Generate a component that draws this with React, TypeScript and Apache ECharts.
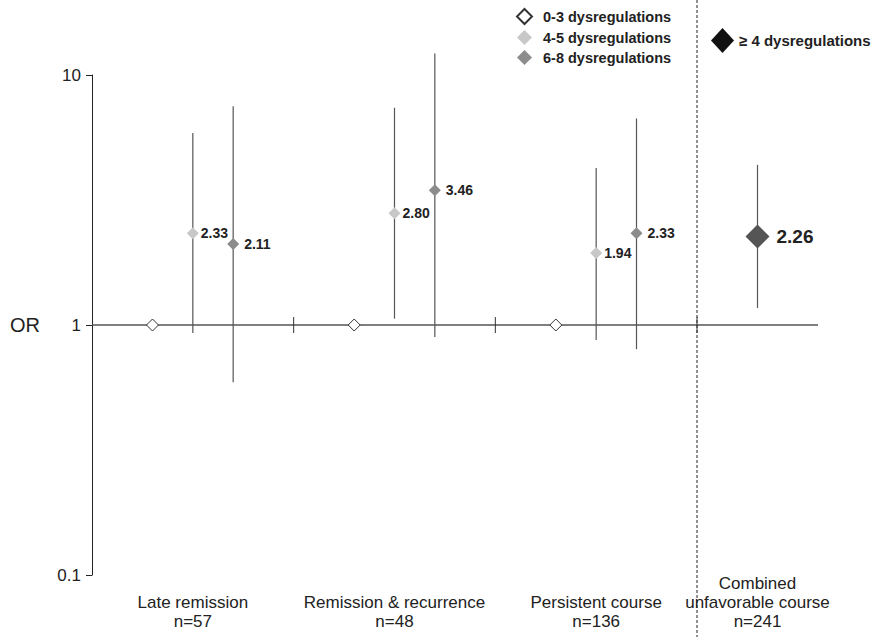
import React, { useEffect, useRef } from "react";
import * as echarts from "echarts";

const FONT = "'Liberation Sans', Arial, Helvetica, sans-serif";

// Category labels and their x positions (group index units)
const categoryLabels = [
  "Late remission\nn=57",
  "Remission & recurrence\nn=48",
  "Persistent course\nn=136",
  "Combined\nunfavorable course\nn=241",
];
const categoryPos = [0.5, 1.5, 2.5, 3.3];

// Reference group (0-3 dysregulations), OR = 1
const refX = [0.3, 1.3, 2.3];
const refOR = [1, 1, 1];

// 4-5 dysregulations
const x45 = [0.5, 1.5, 2.5];
const or45 = [2.33, 2.8, 1.94];
const lo45 = [0.93, 1.06, 0.87];
const hi45 = [5.86, 7.4, 4.25];

// 6-8 dysregulations
const x68 = [0.7, 1.7, 2.7];
const or68 = [2.11, 3.46, 2.33];
const lo68 = [0.59, 0.895, 0.8];
const hi68 = [7.5, 12.2, 6.7];

// >= 4 dysregulations, combined unfavorable course
const xComb = [3.3];
const orComb = [2.26];
const loComb = [1.17];
const hiComb = [4.37];

// group separators
const separators = [1, 2, 3];
const dividerX = [3];

export default function App() {
  const ref = useRef<HTMLDivElement>(null);

  useEffect(() => {
    if (!ref.current) return;
    const chart = echarts.init(ref.current, undefined, { renderer: "svg" });

    const ciData = [
      ...x45.map((x, i) => [x, lo45[i], hi45[i]]),
      ...x68.map((x, i) => [x, lo68[i], hi68[i]]),
      ...xComb.map((x, i) => [x, loComb[i], hiComb[i]]),
    ];

    const labelStyle = (size: number, dist: number) => ({
      show: true,
      position: "right",
      distance: dist,
      formatter: (p: any) => Number(p.value[1]).toFixed(2),
      fontFamily: FONT,
      fontWeight: "bold",
      fontSize: size,
      color: "#222",
    });

    chart.setOption({
      animation: false,
      backgroundColor: "#fff",
      grid: { left: 92, right: 57, top: 75, bottom: 62 },
      legend: [
        {
          data: [
            { name: "0-3 dysregulations", icon: "diamond" },
            { name: "4-5 dysregulations", icon: "diamond" },
            { name: "6-8 dysregulations", icon: "diamond" },
          ],
          orient: "vertical",
          left: 516,
          top: 8,
          padding: 0,
          itemWidth: 15,
          itemHeight: 15,
          itemGap: 5,
          selectedMode: false,
          textStyle: {
            fontFamily: FONT,
            fontSize: 14.5,
            fontWeight: "bold",
            color: "#222",
            padding: [0, 0, 0, 6],
          },
        },
        {
          data: [
            { name: "≥ 4 dysregulations", icon: "diamond", itemStyle: { color: "#111" } },
          ],
          orient: "vertical",
          left: 711,
          top: 28,
          padding: 0,
          itemWidth: 23,
          itemHeight: 25,
          selectedMode: false,
          textStyle: { fontFamily: FONT, fontSize: 15, fontWeight: "bold", color: "#222" },
        },
      ],
      xAxis: {
        type: "value",
        min: 0,
        max: 3.6,
        axisLine: { show: false },
        axisTick: { show: false },
        splitLine: { show: false },
        axisLabel: {
          customValues: categoryPos,
          formatter: (v: number) => {
            const i = categoryPos.findIndex((p) => Math.abs(p - v) < 1e-6);
            return i >= 0 ? categoryLabels[i] : "";
          },
          fontFamily: FONT,
          fontSize: 17,
          color: "#222",
          lineHeight: 19,
          verticalAlign: "bottom",
          margin: 56,
        },
      },
      yAxis: {
        type: "log",
        logBase: 10,
        min: 0.1,
        max: 10,
        name: "OR",
        nameLocation: "middle",
        nameRotate: 0,
        nameGap: 52,
        nameTextStyle: {
          fontFamily: FONT,
          fontSize: 20,
          color: "#222",
          align: "right",
          verticalAlign: "middle",
        },
        axisLine: { show: true, lineStyle: { color: "#222", width: 1 } },
        axisTick: {
          show: true,
          inside: false,
          length: 6,
          lineStyle: { color: "#222" },
        },
        minorTick: { show: false },
        splitLine: { show: false },
        axisLabel: {
          fontFamily: FONT,
          fontSize: 17,
          color: "#222",
          margin: 11,
        },
      },
      series: [
        {
          type: "custom",
          name: "divider",
          silent: true,
          clip: false,
          data: dividerX.map((x) => [x, 1]),
          renderItem: (params: any, api: any) => {
            const p = api.coord([api.value(0), api.value(1)]);
            return {
              type: "line",
              shape: { x1: p[0], y1: 0, x2: p[0], y2: api.getHeight() },
              style: { stroke: "#222", lineWidth: 1, lineDash: [3, 2] },
            };
          },
          z: 1,
        },
        {
          type: "custom",
          name: "separators",
          silent: true,
          clip: false,
          data: separators.map((x) => [x, 1]),
          renderItem: (params: any, api: any) => {
            const p = api.coord([api.value(0), api.value(1)]);
            return {
              type: "line",
              shape: { x1: p[0], y1: p[1] - 8, x2: p[0], y2: p[1] + 8 },
              style: { stroke: "#333", lineWidth: 1 },
            };
          },
          z: 2,
        },
        {
          type: "custom",
          name: "CI",
          silent: true,
          clip: false,
          data: ciData,
          renderItem: (params: any, api: any) => {
            const a = api.coord([api.value(0), api.value(1)]);
            const b = api.coord([api.value(0), api.value(2)]);
            return {
              type: "line",
              shape: { x1: a[0], y1: a[1], x2: b[0], y2: b[1] },
              style: { stroke: "#555", lineWidth: 1.2 },
            };
          },
          z: 2,
        },
        {
          type: "scatter",
          name: "0-3 dysregulations",
          symbol: "diamond",
          symbolSize: 12,
          data: refX.map((x, i) => [x, refOR[i]]),
          itemStyle: { color: "#fff", borderColor: "#333", borderWidth: 1, opacity: 1 },
          markLine: {
            silent: true,
            symbol: "none",
            label: { show: false },
            lineStyle: { type: "solid", color: "#555", width: 1.5 },
            data: [{ yAxis: 1 }],
            z: 1,
          },
          z: 5,
        },
        {
          type: "scatter",
          name: "4-5 dysregulations",
          symbol: "diamond",
          symbolSize: 12,
          data: x45.map((x, i) => [x, or45[i]]),
          itemStyle: { color: "#c8c8c8", opacity: 1 },
          label: labelStyle(14, 2),
          z: 5,
        },
        {
          type: "scatter",
          name: "6-8 dysregulations",
          symbol: "diamond",
          symbolSize: 12,
          data: x68.map((x, i) => [x, or68[i]]),
          itemStyle: { color: "#8c8c8c", opacity: 1 },
          label: labelStyle(14, 5),
          z: 5,
        },
        {
          type: "scatter",
          name: "≥ 4 dysregulations",
          symbol: "diamond",
          symbolSize: 24,
          data: xComb.map((x, i) => [x, orComb[i]]),
          itemStyle: { color: "#555", opacity: 1 },
          label: labelStyle(19, 7),
          z: 5,
        },
      ],
    });

    return () => chart.dispose();
  }, []);

  return (
    <div
      ref={ref}
      style={{ position: "absolute", left: 0, top: 0, width: 875, height: 637 }}
    />
  );
}
